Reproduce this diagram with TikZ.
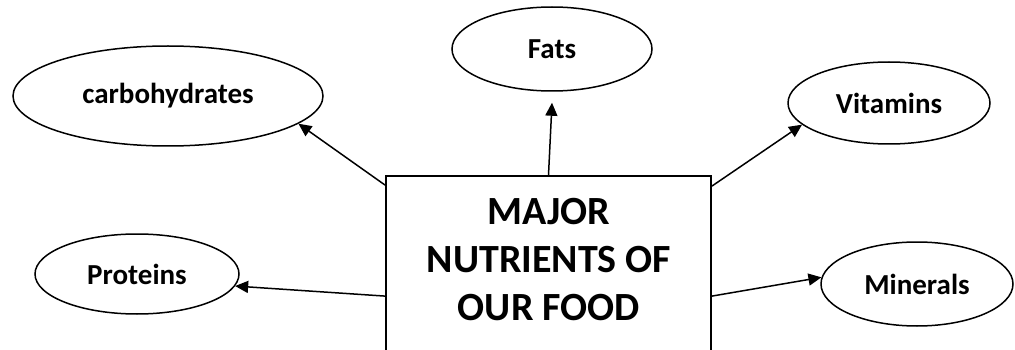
\documentclass[tikz,border=0pt]{standalone}
\usepackage{fontspec}
\setmainfont{Carlito}
\usetikzlibrary{shapes.geometric,arrows.meta}

\begin{document}
\begin{tikzpicture}[x=1pt, y=-1pt, line width=1.5pt, ->, >={Triangle[length=13pt,width=12pt]},
  nutrient/.style={draw, ellipse, inner sep=0pt, font=\fontsize{29}{34}\selectfont\bfseries}]

  \useasboundingbox (0,0) rectangle (1015,350);

  \node[draw, rectangle, line width=1.8pt, minimum width=325pt, minimum height=224pt] (core) at (548.5, 288) {};
  \node[align=center, font=\fontsize{40}{48}\selectfont\bfseries] (title) at (549, 260) {MAJOR\\NUTRIENTS OF\\OUR FOOD};

  \node[nutrient, minimum width=310pt, minimum height=100pt] (carbs) at (168, 96) {\raisebox{6pt}{carbohydrates}};
  \node[nutrient, minimum width=200pt, minimum height=84pt]  (fats) at (552, 49) {Fats};
  \node[nutrient, minimum width=202pt, minimum height=82pt]  (vitamins) at (889, 103) {Vitamins};
  \node[nutrient, minimum width=204pt, minimum height=80pt]  (proteins) at (137, 274) {Proteins};
  \node[nutrient, minimum width=192pt, minimum height=84pt]  (minerals) at (917, 284) {Minerals};

  \path (core.north) edge ([yshift=-11pt]fats.south);
  \path ([yshift=-10pt]core.north west) edge (carbs.-12);
  \path ([yshift=-11pt]core.north east) edge (vitamins.194);
  \path ([yshift=-121pt]core.north west) edge (proteins.-7);
  \path ([yshift=-121pt]core.north east) edge (minerals.176);
  %\node[nutrient] (water) at (550, 330) {Water};
\end{tikzpicture}
\end{document}
